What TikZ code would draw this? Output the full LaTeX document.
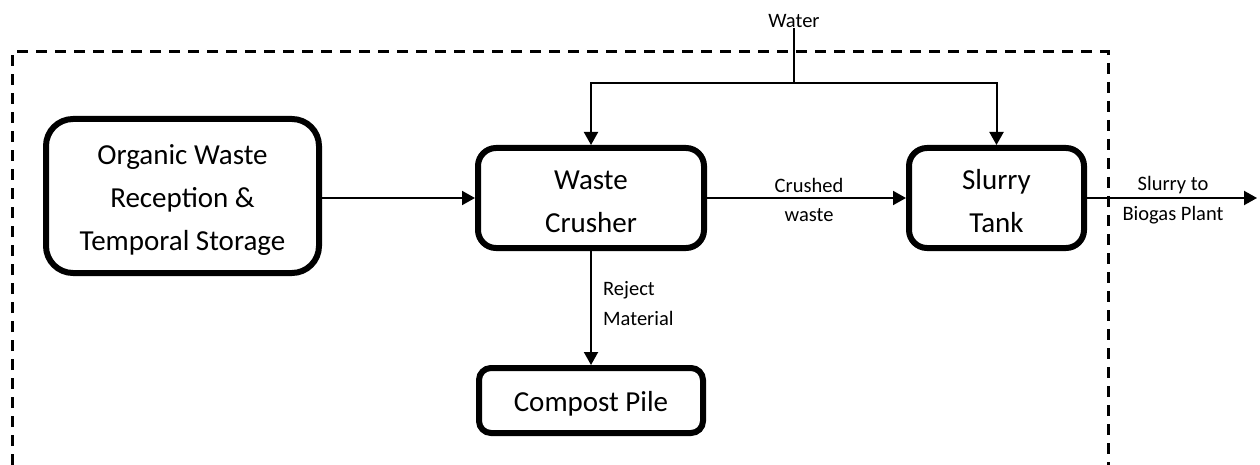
\documentclass[tikz,border=0pt]{standalone}
\usepackage{fontspec}
\setmainfont{Carlito}
\usetikzlibrary{arrows.meta}
\newcommand\myboxtop{\rule{0pt}{27pt}}
\begin{document}
\begin{tikzpicture}[x=1pt,y=-1pt,
 box/.style={draw, line width=6pt, align=center, inner sep=0pt, font=\fontsize{29}{43}\selectfont},
 lbl/.style={inner sep=0pt, align=center, font=\fontsize{20.5}{29.5}\selectfont},
 conn/.style={line width=2pt},
 arr/.style={conn, -{Triangle[length=13pt,width=14pt]}},
 bound/.style={line width=3pt, dash pattern=on 11pt off 8pt}]
\useasboundingbox (0,0) rectangle (1260,465);
\draw[bound] (12,465) -- (12,52) -- (1108,52) -- (1108,465);
\node[box, minimum width=273pt, minimum height=154pt, rounded corners=27pt] (org) at (182.5,196) {\myboxtop Organic Waste\\Reception \&\\Temporal Storage};
\node[box, minimum width=226pt, minimum height=100pt, rounded corners=18pt] (cr) at (591,198) {\myboxtop Waste\\Crusher};
\node[box, minimum width=175pt, minimum height=100pt, rounded corners=18pt] (sl) at (996.5,198) {\myboxtop Slurry\\Tank};
\node[box, minimum width=224pt, minimum height=65pt, rounded corners=12pt] (cp) at (591,400.5) {\myboxtop Compost Pile};
\node[lbl, anchor=base] (water) at (794,28) {Water};
\coordinate (wj) at (794,83);
\coordinate (out) at (1257,198);
\draw[conn] (water.south) -- (wj);
\draw[arr] (wj) -| (cr.north);
\draw[arr] (wj) -| (sl.north);
\draw[arr] (org.east |- cr.west) -- (cr.west);
\draw[arr] (cr.east) -- (sl.west);
\draw[arr] (cr.south) -- (cp.north);
\draw[arr] (sl.east) -- (out);
\node[lbl] (crl) at (809,200) {Crushed\\waste};
\node[lbl, align=left, anchor=west] (rej) at (603,303.5) {Reject\\Material};
\node[lbl] (sto) at (1173,200) {Slurry to\\Biogas Plant};
\end{tikzpicture}
\end{document}
